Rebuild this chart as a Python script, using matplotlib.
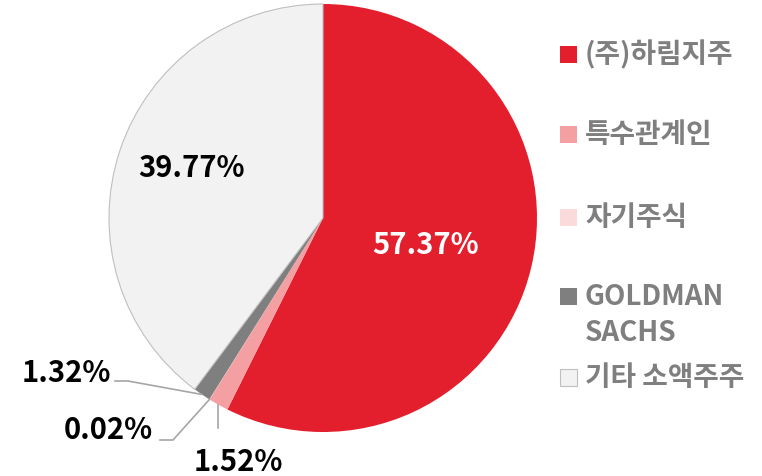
import matplotlib
matplotlib.use("Agg")
import matplotlib.pyplot as plt
import numpy as np

plt.rcParams['font.family'] = ['Noto Sans CJK KR', 'DejaVu Sans']

labels = ['(주)하림지주', '특수관계인', '자기주식', 'GOLDMAN\nSACHS', '기타 소액주주']
values = [57.37, 1.52, 0.02, 1.32, 39.77]
value_text = ['57.37%', '1.52%', '0.02%', '1.32%', '39.77%']
colors = ['#E31E2D', '#F4A0A3', '#FBDADC', '#7F7F7F', '#F2F2F2']

W, H = 762, 477
fig = plt.figure(figsize=(W / 100, H / 100), dpi=100)
ax = fig.add_axes([0, 0, 1, 1])

cx, cy, R = 323, H - 219, 214
wedges, _ = ax.pie(values, colors=colors, startangle=90, counterclock=False,
                   center=(cx, cy), radius=R, frame=True,
                   wedgeprops=dict(linewidth=0))
wedges[4].set_edgecolor('#BFBFBF')
wedges[4].set_linewidth(0.8)
ax.set_xlim(0, W)
ax.set_ylim(0, H)
ax.axis('off')

def px(x, y):
    return x, H - y

def edge_point(i):
    w = wedges[i]
    a = np.deg2rad((w.theta1 + w.theta2) / 2)
    return cx + R * np.cos(a), cy + R * np.sin(a)

fs = 21
ax.text(*px(426, 245), value_text[0], color='white', fontsize=fs, fontweight='bold',
        ha='center', va='center')
ax.text(*px(191, 168), value_text[4], color='black', fontsize=fs, fontweight='bold',
        ha='center', va='center')

lc = '#A6A6A6'
ex, ey = edge_point(3)
ax.plot([ex, 128, 115], [ey, H - 382, H - 382], color=lc, lw=1.2)
ax.text(*px(66, 373), value_text[3], fontsize=fs, fontweight='bold', ha='center', va='center')
ex, ey = edge_point(2)
ax.plot([ex, 173, 160], [ey, H - 441, H - 441], color=lc, lw=1.2)
ax.text(*px(108, 430), value_text[2], fontsize=fs, fontweight='bold', ha='center', va='center')
ex, ey = edge_point(1)
ax.plot([ex, ex], [ey, H - 429], color=lc, lw=1.2)
ax.text(*px(238, 462), value_text[1], fontsize=fs, fontweight='bold', ha='center', va='center')

leg_fs = 20
leg_y = [55, 135, 218, 297, 378]
for lab, col, y in zip(labels, colors, leg_y):
    ax.add_patch(plt.Rectangle((560, H - y - 8.5), 17, 17, facecolor=col,
                               edgecolor='#BFBFBF' if col == '#F2F2F2' else 'none', lw=0.8))
    lines = lab.split('\n')
    for k, l in enumerate(lines):
        ax.text(585, H - y - 36 * k, l, fontsize=leg_fs, fontweight='bold', color='#7F7F7F',
                ha='left', va='center')

fig.savefig('out.png', dpi=100)
